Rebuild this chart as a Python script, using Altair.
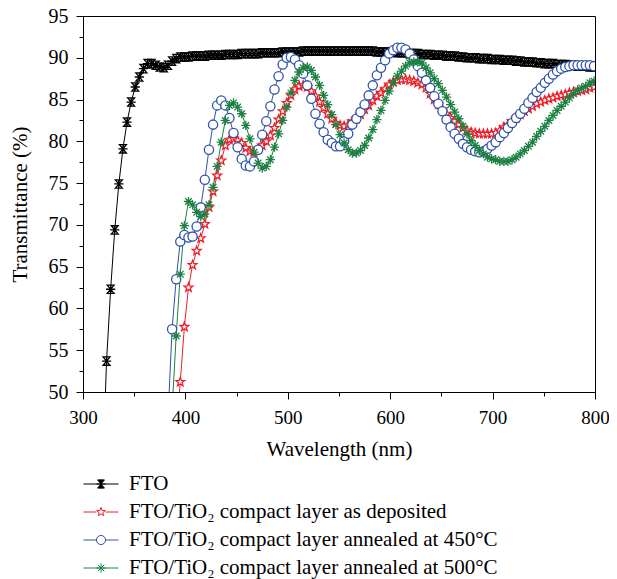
import math
import altair as alt
import pandas as pd

# ---------------- data ----------------
WL_STEP = 4  # nm between measured points

LABELS = [
    "FTO",
    "FTO/TiO₂ compact layer as deposited",
    "FTO/TiO₂ compact layer annealed at 450°C",
    "FTO/TiO₂ compact layer annealed at 500°C",
]
STARTS = [319, 391, 383, 387]  # first wavelength of each series (nm)

FTO = [
    40.0, 53.7, 62.3, 69.4, 74.9, 79.1, 82.3, 84.7, 86.5, 87.7,
    88.7, 89.3, 89.3, 89.1, 88.9, 88.8, 89.1, 89.6, 89.9, 90.1,
    90.1, 90.1, 90.2, 90.2, 90.2, 90.2, 90.3, 90.3, 90.3, 90.3,
    90.4, 90.4, 90.4, 90.4, 90.5, 90.5, 90.5, 90.5, 90.5, 90.6,
    90.6, 90.6, 90.6, 90.6, 90.7, 90.7, 90.7, 90.7, 90.7, 90.8,
    90.8, 90.8, 90.8, 90.8, 90.8, 90.8, 90.8, 90.8, 90.8, 90.8,
    90.8, 90.8, 90.8, 90.8, 90.8, 90.8, 90.8, 90.7, 90.7, 90.7,
    90.7, 90.7, 90.6, 90.6, 90.6, 90.5, 90.5, 90.5, 90.4, 90.4,
    90.4, 90.3, 90.3, 90.3, 90.2, 90.2, 90.2, 90.1, 90.1, 90.0,
    90.0, 90.0, 89.9, 89.9, 89.9, 89.8, 89.8, 89.8, 89.7, 89.7,
    89.7, 89.6, 89.6, 89.5, 89.5, 89.5, 89.4, 89.4, 89.3, 89.3,
    89.3, 89.2, 89.2, 89.2, 89.1, 89.1, 89.0, 89.0, 89.0, 88.9,
    88.9,
]
AS_DEPOSITED = [
    45.0, 51.2, 57.8, 62.5, 65.2, 66.9, 68.4, 70.1, 72.1, 74.0,
    75.9, 77.7, 79.5, 80.2, 80.3, 80.1, 79.8, 79.2, 78.8, 78.7,
    79.1, 79.5, 80.0, 80.7, 81.6, 82.6, 83.6, 84.6, 85.5, 86.2,
    86.6, 86.7, 86.5, 86.0, 85.4, 84.7, 84.0, 83.3, 82.7, 82.2,
    81.9, 81.8, 82.0, 82.4, 82.7, 83.2, 83.8, 84.3, 84.9, 85.4,
    85.8, 86.3, 86.8, 87.1, 87.3, 87.4, 87.4, 87.3, 87.2, 87.0,
    86.8, 86.4, 85.7, 85.0, 84.4, 83.8, 83.3, 82.8, 82.4, 82.0,
    81.6, 81.3, 81.1, 81.0, 80.9, 80.9, 80.9, 80.9, 81.0, 81.3,
    81.7, 82.0, 82.4, 82.8, 83.2, 83.6, 83.9, 84.2, 84.5, 84.7,
    84.9, 85.1, 85.2, 85.4, 85.5, 85.6, 85.8, 85.9, 86.0, 86.1,
    86.2, 86.4, 86.5,
]
ANNEALED_450 = [
    47.0, 57.5, 63.5, 68.0, 68.8, 68.5, 68.6, 69.8, 72.1, 75.4,
    79.0, 82.0, 84.3, 84.9, 84.3, 82.8, 81.0, 79.3, 77.9, 77.1,
    77.0, 77.6, 79.0, 80.8, 82.4, 84.2, 86.2, 87.8, 89.2, 90.0,
    90.1, 89.8, 89.1, 88.1, 86.7, 85.1, 83.3, 82.1, 81.1, 80.2,
    79.8, 79.4, 79.4, 80.0, 80.9, 82.0, 82.7, 83.5, 84.4, 85.5,
    86.7, 87.9, 88.8, 89.7, 90.5, 90.9, 91.2, 91.2, 91.0, 90.5,
    89.8, 89.0, 88.2, 87.3, 86.4, 85.4, 84.5, 83.6, 82.6, 81.7,
    80.9, 80.3, 79.7, 79.3, 79.0, 78.8, 78.7, 78.8, 79.1, 79.5,
    79.9, 80.5, 81.0, 81.6, 82.2, 82.8, 83.3, 83.9, 84.6, 85.2,
    85.9, 86.4, 87.0, 87.5, 88.0, 88.4, 88.7, 88.9, 89.0, 89.1,
    89.1, 89.1, 89.1, 89.1, 89.0,
]
ANNEALED_500 = [
    48.0, 56.7, 64.1, 69.9, 72.8, 72.4, 71.5, 71.0, 71.3, 72.4,
    74.5, 77.0, 79.9, 82.5, 84.3, 84.6, 84.1, 83.3, 81.9, 80.3,
    78.7, 77.4, 76.8, 77.0, 77.8, 79.3, 80.9, 82.5, 84.1, 85.8,
    87.3, 88.3, 88.8, 88.9, 88.5, 87.7, 86.7, 85.5, 84.4, 83.2,
    82.0, 80.8, 79.8, 79.0, 78.6, 78.6, 78.9, 79.5, 80.4, 81.4,
    82.6, 83.7, 84.9, 86.0, 87.0, 87.8, 88.4, 89.0, 89.4, 89.5,
    89.5, 89.4, 88.8, 88.2, 87.5, 86.9, 86.1, 85.3, 84.4, 83.5,
    82.7, 81.8, 80.9, 80.1, 79.5, 78.9, 78.5, 78.1, 77.9, 77.8,
    77.6, 77.6, 77.6, 77.8, 78.1, 78.5, 78.9, 79.4, 79.9, 80.6,
    81.2, 81.8, 82.5, 83.1, 83.7, 84.2, 84.7, 85.2, 85.7, 86.1,
    86.4, 86.6, 87.0, 87.2,
]
SERIES = [FTO, AS_DEPOSITED, ANNEALED_450, ANNEALED_500]

X_TICKS = [300, 400, 500, 600, 700, 800]
X_MINOR = [350, 450, 550, 650, 750]
Y_TICKS = [50, 55, 60, 65, 70, 75, 80, 85, 90, 95]
Y_MINOR = [52.5, 57.5, 62.5, 67.5, 72.5, 77.5, 82.5, 87.5, 92.5]

COLORS = ["#000000", "#ee1c25", "#2f51a9", "#1c8042"]
FILLS = ["transparent", "white", "white", "transparent"]
LEGEND_FILLS = ["#000000", "white", "white", "#1c8042"]

rows = []
for name, start, vals in zip(LABELS, STARTS, SERIES):
    for i, v in enumerate(vals):
        rows.append({"series": name, "wl": start + WL_STEP * i, "T": v})
df = pd.DataFrame(rows)

# ---------------- marker geometry (styling) ----------------
def path_from(polys, s=1.0):
    out = []
    for pts, closed in polys:
        seg = "M" + "L".join(f"{x * s:.3f},{y * s:.3f}" for x, y in pts)
        if closed:
            seg += "Z"
        out.append(seg)
    return " ".join(out)

STAR = [([((1.0 if i % 2 == 0 else 0.42) * math.cos(-math.pi / 2 + i * math.pi / 5),
           (1.0 if i % 2 == 0 else 0.42) * math.sin(-math.pi / 2 + i * math.pi / 5))
          for i in range(10)], True)]
ASTER = [([(0, -1), (0, 1)], False), ([(-1, 0), (1, 0)], False),
         ([(-0.71, -0.71), (0.71, 0.71)], False), ([(-0.71, 0.71), (0.71, -0.71)], False)]
FTO_M = [([(-0.75, -0.9), (0.75, -0.9), (-0.75, 0.9), (0.75, 0.9)], True),
         ([(0, -1), (0, 1)], False), ([(-1, 0), (1, 0)], False)]

MARKERS = [path_from(FTO_M), path_from(STAR), "circle", path_from(ASTER)]

r = 0.26
circ = f"M{r},0A{r},{r} 0 1,1 {-r},0A{r},{r} 0 1,1 {r},0Z"
LEG_SHAPES = [
    "M-1,0L1,0 " + path_from(FTO_M, r),
    f"M-1,0L{-r},0 M{r},0L1,0 " + path_from(STAR, r),
    f"M-1,0L{-r},0 M{r},0L1,0 " + circ,
    "M-1,0L1,0 " + path_from(ASTER, r),
]

FONT = "Liberation Serif, DejaVu Serif, serif"

xscale = alt.Scale(domain=[300, 800], nice=False, zero=False)
yscale = alt.Scale(domain=[50, 95], nice=False, zero=False)

x_major = alt.X("wl:Q", scale=xscale, axis=alt.Axis(
    values=X_TICKS, tickSize=7, labelPadding=9, labelFlush=False, format="d",
    labelFontSize=19, title="Wavelength (nm)", titlePadding=11, orient="bottom"))
y_major = alt.Y("T:Q", scale=yscale, axis=alt.Axis(
    values=Y_TICKS, tickSize=7, labelPadding=8, labelFlush=False, format="d",
    title="Transmittance (%)", titlePadding=18, orient="left"))

lines = alt.Chart(df).mark_line(strokeWidth=1, clip=True).encode(
    x=x_major,
    y=y_major,
    color=alt.Color("series:N", scale=alt.Scale(domain=LABELS, range=COLORS), legend=None),
)

points = alt.Chart(df).mark_point(size=85, strokeWidth=1.3, opacity=1, clip=True).encode(
    x=alt.X("wl:Q", scale=xscale, axis=None),
    y=alt.Y("T:Q", scale=yscale, axis=None),
    shape=alt.Shape("series:N", scale=alt.Scale(domain=LABELS, range=MARKERS), legend=None),
    stroke=alt.Stroke("series:N", scale=alt.Scale(domain=LABELS, range=COLORS), legend=None),
    fill=alt.Fill("series:N", scale=alt.Scale(domain=LABELS, range=FILLS), legend=None),
)

leg = alt.Legend(
    title=None, orient="none", legendX=0, legendY=450, direction="vertical",
    symbolSize=1225, symbolStrokeWidth=1, symbolOpacity=1,
    labelFont=FONT, labelFontSize=21, labelColor="black", labelOffset=10,
    labelLimit=0, rowPadding=-3.5, padding=0,
)

legend_layer = alt.Chart(df).transform_filter("datum.T > 1000").mark_point(clip=True, opacity=1).encode(
    x=alt.X("wl:Q", scale=xscale, axis=alt.Axis(
        values=X_MINOR, tickSize=4, labels=False, domain=False, title=None, orient="bottom")),
    y=alt.Y("T:Q", scale=yscale, axis=alt.Axis(
        values=Y_MINOR, tickSize=4, labels=False, domain=False, title=None, orient="left")),
    shape=alt.Shape("series:N", scale=alt.Scale(domain=LABELS, range=LEG_SHAPES), legend=leg),
    stroke=alt.Stroke("series:N", scale=alt.Scale(domain=LABELS, range=COLORS), legend=leg),
    fill=alt.Fill("series:N", scale=alt.Scale(domain=LABELS, range=LEGEND_FILLS), legend=leg),
)

chart = alt.layer(lines, points, legend_layer).resolve_scale(
    shape="independent", stroke="independent", fill="independent", color="independent"
).resolve_axis(
    x="independent", y="independent"
).properties(
    width=512, height=376,
    padding={"left": 75, "top": 8, "right": 14, "bottom": 187},
    autosize=alt.AutoSizeParams(type="none"),
).configure_view(
    stroke="black", strokeWidth=1
).configure_axis(
    grid=False, domainColor="black", tickColor="black", labelColor="black",
    titleColor="black", labelFont=FONT, titleFont=FONT, labelFontSize=20,
    titleFontSize=21, titleFontWeight="normal", domainWidth=1, tickWidth=1,
)

chart.save("out.html", embed_options={"renderer": "svg", "actions": False})
